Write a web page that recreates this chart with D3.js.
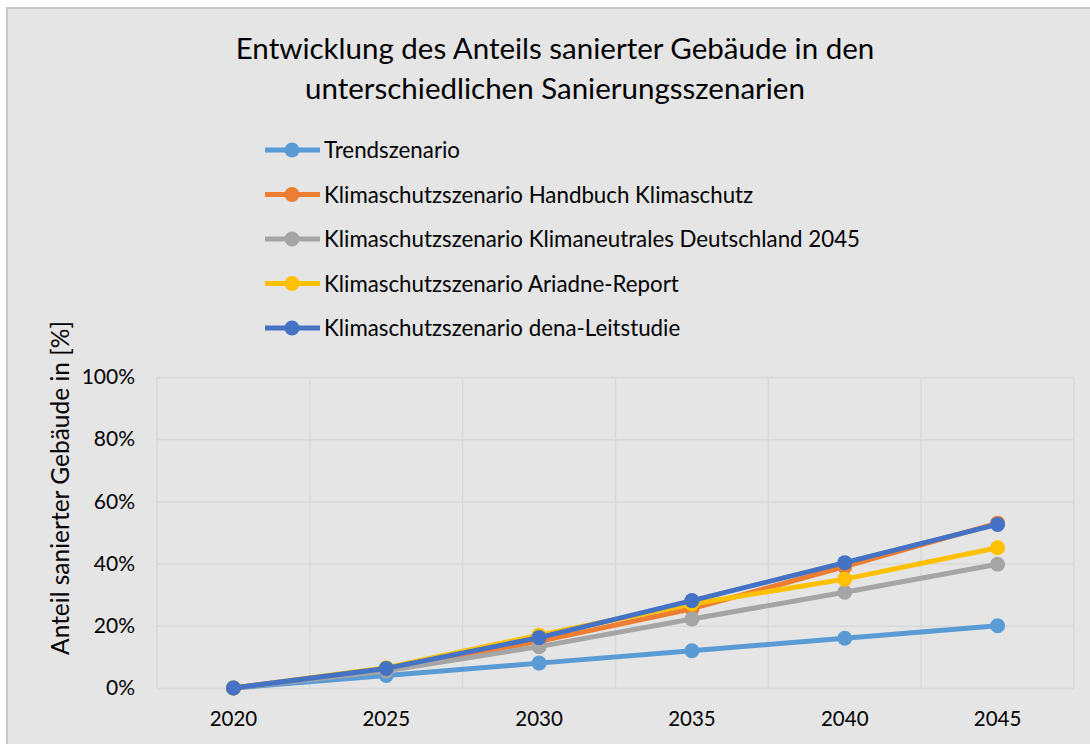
<!DOCTYPE html>
<html>
  <head>
    <title>Sanierungsszenarien</title>
    <style>
      body {
        margin: 0px;
        overflow: hidden;
        background: #ffffff;
      }
      text {
        font-family: Lato, "Noto Sans", sans-serif;
        fill: #000;
      }
    </style>
    <script src="https://d3js.org/d3.v7.min.js"></script>
  </head>
  <body>
    <svg width="1090" height="744"></svg>
    <script>
      const years = ['2020', '2025', '2030', '2035', '2040', '2045'];
      const yTicks = [0, 0.2, 0.4, 0.6, 0.8, 1.0];

      const trend = [0, 0.04, 0.08, 0.12, 0.16, 0.20];
      const handbuch = [0, 0.06, 0.15, 0.255, 0.39, 0.53];
      const klimaneutral = [0, 0.055, 0.133, 0.222, 0.308, 0.398];
      const ariadne = [0, 0.065, 0.17, 0.27, 0.35, 0.451];
      const dena = [0, 0.063, 0.162, 0.281, 0.403, 0.526];

      const seriesNames = [
        'Trendszenario',
        'Klimaschutzszenario Handbuch Klimaschutz',
        'Klimaschutzszenario Klimaneutrales Deutschland 2045',
        'Klimaschutzszenario Ariadne-Report',
        'Klimaschutzszenario dena-Leitstudie'
      ];
      const seriesColors = ['#5b9bd5', '#ed7d31', '#a5a5a5', '#ffc000', '#4472c4'];
      const seriesValues = [trend, handbuch, klimaneutral, ariadne, dena];

      const series = seriesNames.map((name, i) => ({
        name: name,
        color: seriesColors[i],
        values: seriesValues[i]
      }));

      const svg = d3.select('svg');

      // chart area background and border
      svg.append('rect')
        .attr('x', 7).attr('y', 8)
        .attr('width', 1090).attr('height', 744)
        .attr('fill', '#e5e5e5')
        .attr('stroke', '#c8c8c8')
        .attr('stroke-width', 2);

      // title
      const title = svg.append('text')
        .attr('text-anchor', 'middle')
        .style('font-size', '29.5px');
      title.append('tspan').attr('x', 555).attr('y', 59)
        .text('Entwicklung des Anteils sanierter Gebäude in den');
      title.append('tspan').attr('x', 555).attr('y', 99)
        .text('unterschiedlichen Sanierungsszenarien');

      const margin = { top: 377, left: 157, right: 1074, bottom: 688 };

      const xScale = d3.scaleBand()
        .domain(years)
        .range([margin.left, margin.right]);

      const yScale = d3.scaleLinear()
        .domain([0, 1])
        .range([margin.bottom, margin.top]);

      // gridlines
      const yAxis = d3.axisLeft(yScale)
        .tickValues(yTicks)
        .tickSize(-(margin.right - margin.left))
        .tickFormat(d3.format('.0%'))
        .tickPadding(22);

      const gy = svg.append('g')
        .attr('transform', `translate(${margin.left},0)`)
        .call(yAxis);
      gy.select('.domain').remove();
      gy.selectAll('.tick line').attr('stroke', '#d9d9d9').attr('stroke-width', 1.5);
      gy.selectAll('.tick text').style('font-size', '21px').attr('fill', '#000');

      const vGrid = d3.range(years.length + 1).map(i => margin.left + i * xScale.step());
      svg.append('g').selectAll('line').data(vGrid).join('line')
        .attr('x1', d => d).attr('x2', d => d)
        .attr('y1', margin.top).attr('y2', margin.bottom)
        .attr('stroke', '#d9d9d9').attr('stroke-width', 1.5);

      const xAxis = d3.axisBottom(xScale).tickSize(0).tickPadding(23);
      const gx = svg.append('g')
        .attr('transform', `translate(0,${margin.bottom})`)
        .call(xAxis);
      gx.select('.domain').remove();
      gx.selectAll('.tick text').style('font-size', '20.5px').attr('fill', '#000');

      // y-axis title
      svg.append('text')
        .attr('transform', 'translate(69,488) rotate(-90)')
        .attr('text-anchor', 'middle')
        .style('font-size', '24.5px')
        .text('Anteil sanierter Gebäude in [%]');

      const xPos = i => xScale(years[i]) + xScale.bandwidth() / 2;
      const line = d3.line()
        .x((d, i) => xPos(i))
        .y(d => yScale(d));

      const lines = svg.append('g');
      series.forEach(s => {
        const g = lines.append('g');
        g.append('path')
          .datum(s.values)
          .attr('d', line)
          .attr('fill', 'none')
          .attr('stroke', s.color)
          .attr('stroke-width', 5)
          .attr('stroke-linejoin', 'round');
        g.selectAll('circle').data(s.values).join('circle')
          .attr('cx', (d, i) => xPos(i))
          .attr('cy', d => yScale(d))
          .attr('r', 7.5)
          .attr('fill', s.color);
      });

      // legend
      const legend = svg.append('g');
      series.forEach((s, i) => {
        const y = 150 + i * 44.5;
        legend.append('line')
          .attr('x1', 265).attr('x2', 320)
          .attr('y1', y).attr('y2', y)
          .attr('stroke', s.color).attr('stroke-width', 5);
        legend.append('circle')
          .attr('cx', 292).attr('cy', y).attr('r', 7.5)
          .attr('fill', s.color);
        legend.append('text')
          .attr('x', 324).attr('y', y + 8)
          .style('font-size', '22.3px')
          .text(s.name);
      });
    </script>
  </body>
</html>
